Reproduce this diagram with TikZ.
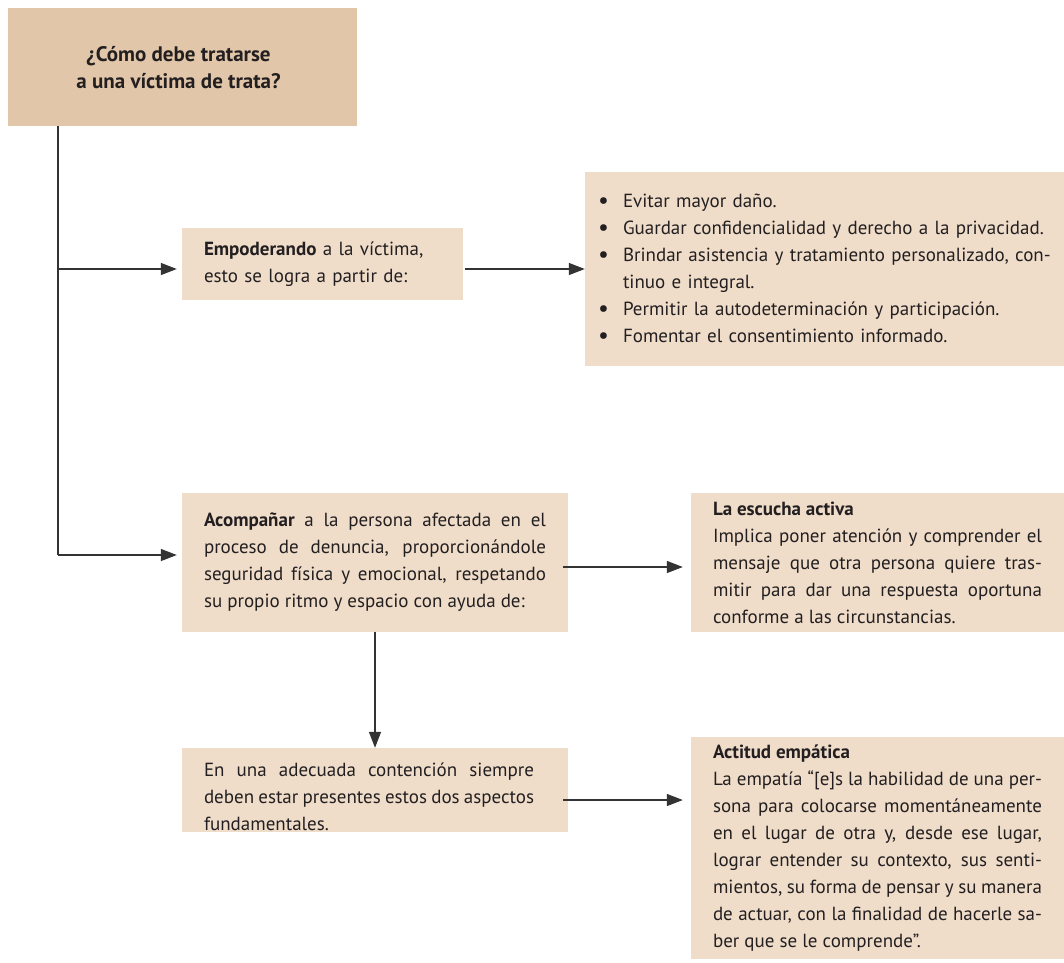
\documentclass[tikz,border=0pt]{standalone}
\usepackage{fontspec}
\setmainfont{PT Sans}
\usetikzlibrary{arrows.meta}
\definecolor{topfill}{HTML}{E1C6A9}
\definecolor{boxfill}{HTML}{EFDDCA}
\definecolor{ink}{HTML}{231F20}
\definecolor{linec}{HTML}{333333}
\newcommand{\bitem}{\makebox[25pt][l]{\raisebox{-1.2pt}{\fontsize{24}{24}\selectfont\textbullet}}}
\tikzset{
  txt/.style={font=\fontsize{19}{27}\selectfont, text=ink},
  lightbox/.style={txt, fill=boxfill, inner xsep=0pt, inner ysep=0pt, align=justify},
  darkbox/.style={txt, fill=topfill, inner sep=0pt, align=center},
  conn/.style={draw=linec, line width=1.3pt},
  arr/.style={conn, -{Triangle[length=16pt,width=12pt]}},
}
\begin{document}
\begin{tikzpicture}[x=1pt,y=-1pt]
\useasboundingbox (0,0) rectangle (1064,962);
% boxes
\node[darkbox, font=\fontsize{21}{27}\selectfont, minimum width=349pt, minimum height=118pt] (top) at (182.5,67)
  {\raisebox{-3pt}[\height][\depth]{\begin{tabular}{@{}c@{}}\textbf{¿Cómo debe tratarse}\\\textbf{a una víctima de trata?}\end{tabular}}\hspace*{8pt}};
\node[lightbox, align=left, minimum width=281pt, minimum height=72pt, text width=237pt] (emp) at (322.5,264)
  {\textbf{Empoderando} a la víctima,\\esto se logra a partir de:};
\node[lightbox, align=left, minimum width=479pt, minimum height=194pt, text width=453pt] (bul) at (824.5,269)
  {\bitem Evitar mayor daño.\\
   \bitem Guardar confidencialidad y derecho a la privacidad.\\
   \bitem Brindar asistencia y tratamiento personalizado, con-\\
   \hspace*{25pt}tinuo e integral.\\
   \bitem Permitir la autodeterminación y participación.\\
   \bitem Fomentar el consentimiento informado.};
\node[lightbox, minimum width=386pt, minimum height=139pt, text width=342pt] (acomp) at (375,562.5)
  {\textbf{Acompañar} a la persona afectada en el\linebreak
   proceso de denuncia, proporcionándole\linebreak
   seguridad física y emocional, respetando\linebreak
   su propio ritmo y espacio con ayuda de:};
\node[lightbox, minimum width=373pt, minimum height=139pt, text width=329pt] (esc) at (877.5,562.5)
  {\textbf{La escucha activa}\\
   Implica poner atención y comprender el\linebreak
   mensaje que otra persona quiere tras-\linebreak
   mitir para dar una respuesta oportuna\linebreak
   conforme a las circunstancias.};
\node[lightbox, minimum width=386pt, minimum height=84pt] (cont) at (375,790)
  {\parbox{330pt}{\vspace*{14pt}\fontsize{19}{27}\selectfont
   En una adecuada contención siempre\linebreak
   deben estar presentes estos dos aspectos\linebreak
   fundamentales.}\hspace*{12pt}};
\node[lightbox, minimum width=373pt, minimum height=222pt, text width=329pt] (act) at (877.5,848)
  {\textbf{Actitud empática}\\
   La empatía “[e]s la habilidad de una per-\linebreak
   sona para colocarse momentáneamente\linebreak
   en el lugar de otra y, desde ese lugar,\linebreak
   lograr entender su contexto, sus senti-\linebreak
   mientos, su forma de pensar y su manera\linebreak
   de actuar, con la finalidad de hacerle sa-\linebreak
   ber que se le comprende”.};
% connectors
\coordinate (b1) at (58,269);
\coordinate (b2) at (58,555);
\draw[conn] (top.south -| b2) -- (b2);
\draw[arr, shorten >=5pt] (b1) -- (emp.west |- b1);
\draw[arr, shorten >=5pt] (b2) -- (acomp.west |- b2);
\coordinate (a4) at ([xshift=2pt,yshift=-5pt]emp.east);
\draw[arr] (a4) -- (bul.west |- a4);
\coordinate (a5) at ([xshift=-5pt,yshift=-4.5pt]acomp.east);
\draw[arr, shorten >=8pt] (a5) -- (esc.west |- a5);
\coordinate (a6) at ([xshift=-5pt,yshift=-10pt]cont.east);
\draw[arr, shorten >=8pt] (a6) -- (act.west |- a6);
\draw[arr] (acomp.south) -- (cont.north);
\end{tikzpicture}
\end{document}
